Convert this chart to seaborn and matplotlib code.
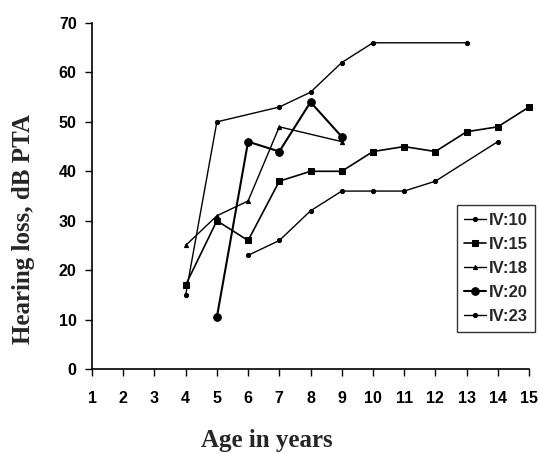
import matplotlib
matplotlib.use("Agg")
import matplotlib.pyplot as plt
import seaborn as sns
import pandas as pd

# ── Data ─────────────────────────────────────────────────────────────────────
SERIES = ["IV:10", "IV:15", "IV:18", "IV:20", "IV:23"]

age_iv10 = [4, 5, 7, 8, 9, 10, 13]
pta_iv10 = [15, 50, 53, 56, 62, 66, 66]

age_iv15 = [4, 5, 6, 7, 8, 9, 10, 11, 12, 13, 14, 15]
pta_iv15 = [17, 30, 26, 38, 40, 40, 44, 45, 44, 48, 49, 53]

age_iv18 = [4, 5, 6, 7, 9]
pta_iv18 = [25, 31, 34, 49, 46]

age_iv20 = [5, 6, 7, 8, 9]
pta_iv20 = [10.5, 46, 44, 54, 47]

age_iv23 = [6, 7, 8, 9, 10, 11, 12, 14]
pta_iv23 = [23, 26, 32, 36, 36, 36, 38, 46]

x_ticks = list(range(1, 16))
y_ticks = list(range(0, 80, 10))

# per-series marker look
styles = {
    "IV:10": dict(marker="o", ms=3.0, lw=1.0),
    "IV:15": dict(marker="s", ms=4.5, lw=1.2),
    "IV:18": dict(marker="^", ms=3.0, lw=1.0),
    "IV:20": dict(marker="o", ms=5.5, lw=1.5),
    "IV:23": dict(marker="o", ms=3.0, lw=1.0),
}

data = {
    "IV:10": (age_iv10, pta_iv10),
    "IV:15": (age_iv15, pta_iv15),
    "IV:18": (age_iv18, pta_iv18),
    "IV:20": (age_iv20, pta_iv20),
    "IV:23": (age_iv23, pta_iv23),
}

sns.set_style("ticks")
plt.rcParams["font.family"] = ["Liberation Sans", "DejaVu Sans"]

fig = plt.figure(figsize=(5.39, 4.53), dpi=100)
ax = fig.add_axes([0.1707, 0.1854, 0.8108, 0.7638])

for name in SERIES:
    ages, vals = data[name]
    st = styles[name]
    df = pd.DataFrame({"age": ages, "pta": vals})
    sns.lineplot(data=df, x="age", y="pta", ax=ax, color="black",
                 marker=st["marker"], markersize=st["ms"], linewidth=st["lw"],
                 markeredgecolor="black", label=name, clip_on=False)

ax.set_xlim(1, 15)
ax.set_ylim(0, 70)
ax.set_xticks(x_ticks)
ax.set_yticks(y_ticks)
ax.set_xticklabels([str(t) for t in x_ticks], fontweight="bold", fontsize=11.5)
ax.set_yticklabels([str(t) for t in y_ticks], fontweight="bold", fontsize=11.5)
ax.tick_params(axis="both", direction="out", length=5, width=1.0, colors="black")
ax.tick_params(axis="x", pad=11)
ax.tick_params(axis="y", pad=6)

for side in ["top", "right"]:
    ax.spines[side].set_visible(False)
for side in ["left", "bottom"]:
    ax.spines[side].set_linewidth(1.2)
    ax.spines[side].set_color("black")

ax.set_xlabel("")
ax.set_ylabel("")
fig.text(267 / 539, 1 - 440 / 453, "Age in years", family="Liberation Serif",
         fontweight="bold", fontsize=18, ha="center", va="center")
fig.text(24 / 539, 1 - 229 / 453, "Hearing loss, dB PTA", family="Liberation Serif",
         fontweight="bold", fontsize=18, ha="center", va="center", rotation=90)

leg = ax.legend(loc="upper left", bbox_to_anchor=(0.835, 0.474, 0.178, 0.0),
                mode="expand", frameon=True, fancybox=False, handlelength=1.3,
                handletextpad=0.15, borderpad=0.45, labelspacing=0.55,
                borderaxespad=0.0, prop={"weight": "bold", "size": 12})
leg.get_frame().set_edgecolor("black")
leg.get_frame().set_linewidth(1.0)

fig.savefig("out.png", dpi=100)
plt.close(fig)
